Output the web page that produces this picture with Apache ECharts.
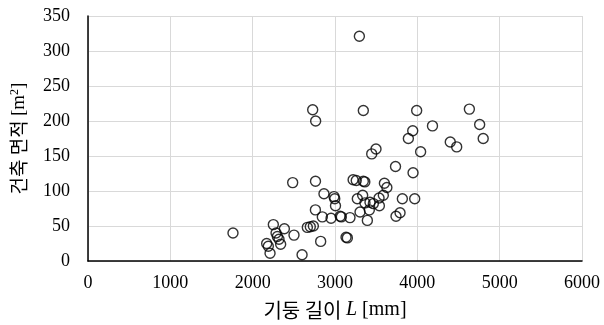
<!DOCTYPE html>
<html><head><meta charset="utf-8">
<script src="https://cdn.jsdelivr.net/npm/echarts@6/dist/echarts.min.js"></script>
<style>html,body{margin:0;padding:0;background:#fff}#c{width:604px;height:325px}</style>
</head><body><div id="c"></div>
<script>
const columnLength = [1761,2170,2190,2211,2251,2284,2300,2320,2340,2385,2502,2486,2600,2664,2700,2737,2729,2765,2763,2762,2826,2846,2866,2952,2988,2997,3006,3063,3077,3134,3150,3182,3220,3258,3344,3362,3296,3344,3271,3336,3364,3425,3466,3535,3587,3539,3417,3304,3393,3446,3498,3600,3630,3735,3741,3790,3818,3968,3891,3944,3992,3948,4040,4184,4400,4478,4632,4757,4800];
const buildingArea = [40,25,21,11,52,40,35,31,24,46,37,112,9,48,49,50,216,200,114,73,28,63,96,61,92,89,79,64,63,34,33,62,116,115,114,113,321,215,89,94,83,84,82,90,94,79,73,70,58,153,160,111,105,135,64,69,89,89,175,186,215,126,156,193,170,163,217,195,175];
const xTicks = [0,1000,2000,3000,4000,5000,6000];
const yTicks = [0,50,100,150,200,250,300,350];

const data = columnLength.map((x,i)=>[x, buildingArea[i]]);
const serif = '"Liberation Serif","Times New Roman",serif';
const kr = '"Noto Sans CJK KR","Noto Sans",sans-serif';
const chart = echarts.init(document.getElementById('c'), null, {renderer:'canvas'});
chart.setOption({
  animation:false,
  grid:{left:88,right:22,top:16,bottom:64,containLabel:false},
  xAxis:{type:'value',min:xTicks[0],max:xTicks[xTicks.length-1],interval:1000,
    axisLine:{show:true,onZero:false,lineStyle:{color:'#000',width:1.5}},
    axisTick:{show:false},
    splitLine:{show:true,lineStyle:{color:'#d9d9d9',width:1}},
    axisLabel:{color:'#000',fontFamily:serif,fontSize:18,margin:13,formatter:v=>String(v)},
    name:'{k|기둥 길이 }{i|L}{t| [mm]}',nameLocation:'middle',nameGap:39,
    nameTextStyle:{rich:{
      k:{fontFamily:kr,fontSize:20,color:'#000'},
      i:{fontFamily:serif,fontSize:20,fontStyle:'italic',color:'#000'},
      t:{fontFamily:serif,fontSize:20,color:'#000'}}}
  },
  yAxis:{type:'value',min:yTicks[0],max:yTicks[yTicks.length-1],interval:50,
    axisLine:{show:true,onZero:false,lineStyle:{color:'#000',width:1.5}},
    axisTick:{show:false},
    splitLine:{show:true,lineStyle:{color:'#d9d9d9',width:1}},
    axisLabel:{color:'#000',fontFamily:serif,fontSize:18,margin:18,formatter:v=>String(v)},
    name:'{k|건축 면적 }{t|[m}{s|2}{t|]}',nameLocation:'middle',nameGap:59,nameRotate:90,
    nameTextStyle:{rich:{
      k:{fontFamily:kr,fontSize:19,color:'#000'},
      t:{fontFamily:serif,fontSize:19,color:'#000'},
      s:{fontFamily:serif,fontSize:12,color:'#000',verticalAlign:'top',padding:[0,0,8,0]}}}
  },
  series:[{type:'scatter',data:data,symbol:'circle',symbolSize:10,
    itemStyle:{color:'rgba(0,0,0,0)',borderColor:'#000',borderWidth:1.4},
    emphasis:{disabled:true}}]
});
</script></body></html>
